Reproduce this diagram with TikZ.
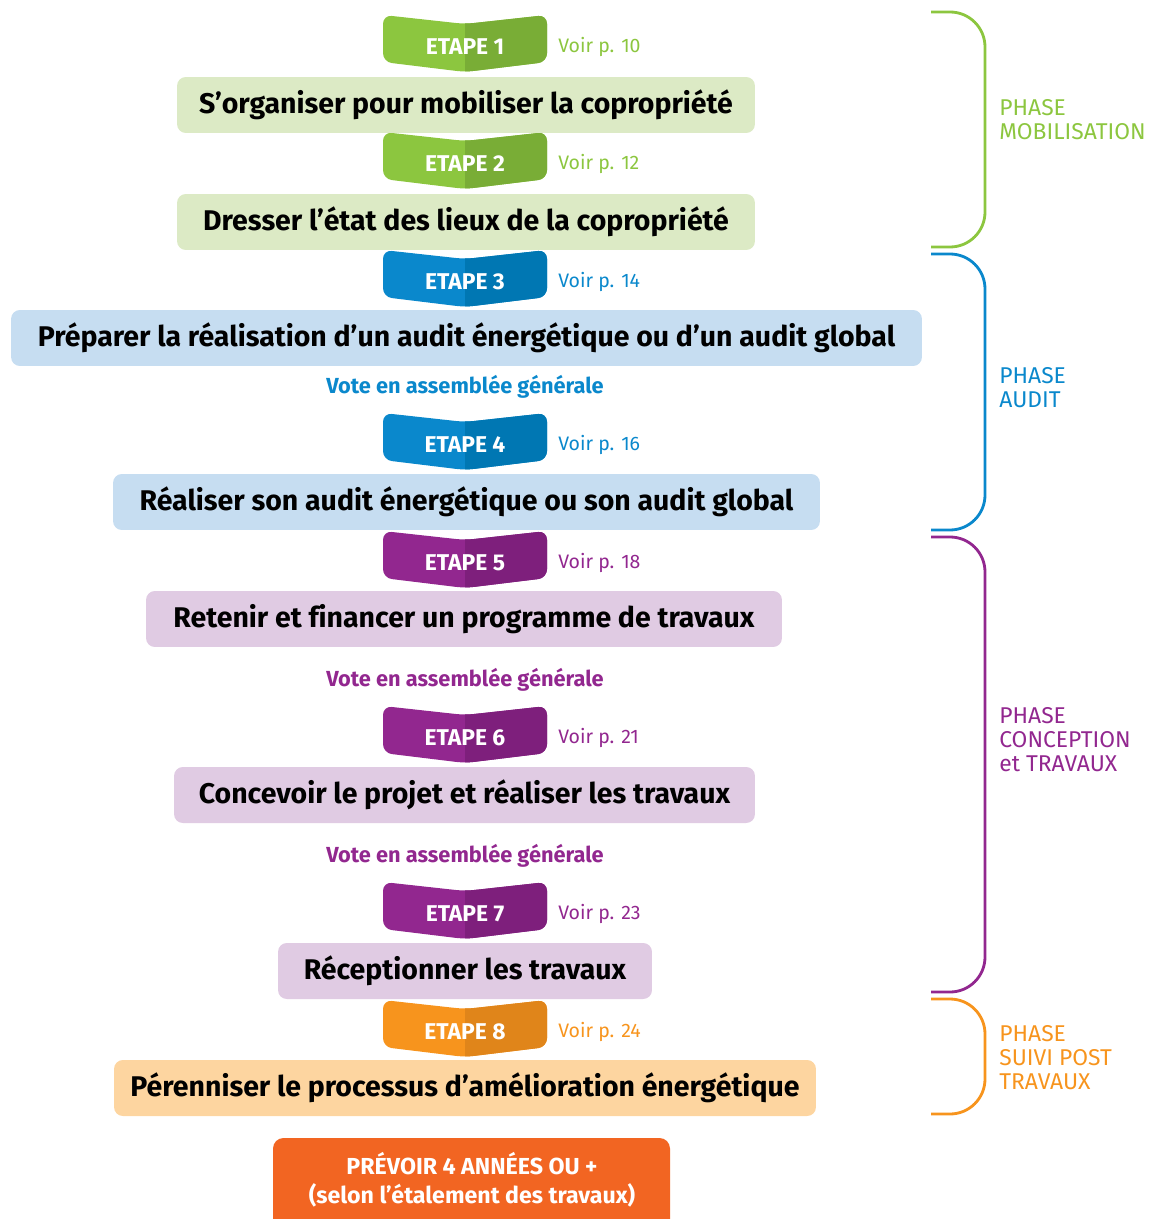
\documentclass[tikz,border=0pt]{standalone}
\usepackage{fontspec}
\setmainfont[Ligatures=NoCommon]{Fira Sans}
\usepackage{tikz}
\usetikzlibrary{positioning}

\definecolor{vertA}{HTML}{8CC63F}
\definecolor{vertB}{HTML}{79AD36}
\definecolor{vertC}{HTML}{DCEAC5}
\definecolor{bleuA}{HTML}{0A88CC}
\definecolor{bleuB}{HTML}{0077B3}
\definecolor{bleuC}{HTML}{C6DDF1}
\definecolor{violA}{HTML}{92278F}
\definecolor{violB}{HTML}{7E1F7C}
\definecolor{violC}{HTML}{E0CBE3}
\definecolor{oranA}{HTML}{F7941D}
\definecolor{oranB}{HTML}{E0851A}
\definecolor{oranC}{HTML}{FDD5A0}
\definecolor{oranD}{HTML}{F26522}

\begin{document}
\begin{tikzpicture}[
			x=0.02cm, y=-0.02cm,
			etape/.style={text=white,inner sep=0pt,font=\bfseries\fontsize{13}{15}\selectfont},
			voir/.style={anchor=west,inner sep=0pt,font=\fontsize{11.1}{13}\selectfont},
			titre/.style={rounded corners=5pt,minimum height=1.12cm,inner sep=0pt,font=\bfseries\fontsize{16.2}{19}\selectfont},
			vote/.style={inner sep=0pt,font=\bfseries\fontsize{12.4}{15}\selectfont},
			phase/.style={anchor=west,align=left,inner sep=0pt,font=\fontsize{13}{13.6}\selectfont},
			accolade/.style={line width=1.6pt,rounded corners=0.7cm}
			]

				\clip (0,0) rectangle (1161,1219);

				% etapes
				\foreach \n/\t/\p/\ca/\cb in {1/15/10/vertA/vertB, 2/132/12/vertA/vertB,
						3/250/14/bleuA/bleuB, 4/413/16/bleuA/bleuB,
						5/531/18/violA/violB, 6/706/21/violA/violB,
						7/882/23/violA/violB, 8/1000/24/oranA/oranB}{
					\fill[\ca,rounded corners=5pt] (383,\t) -- (465,\t+9) -- (547,\t) -- (547,\t+47) -- (465,\t+57) -- (383,\t+47) -- cycle;
					\begin{scope}
						\clip (465,\t-2) rectangle (550,\t+60);
						\fill[\cb,rounded corners=5pt] (383,\t) -- (465,\t+9) -- (547,\t) -- (547,\t+47) -- (465,\t+57) -- (383,\t+47) -- cycle;
					\end{scope}
					\node[etape] (e\n) at (465,\t+32) {ETAPE \n};
					\node[voir,text=\ca] (v\n) at (558,\t+32) {Voir p. \p};
				}

				% titres
				\node[titre,fill=vertC,minimum width=11.56cm] (t1) at (466,105) {S’organiser pour mobiliser la copropriété};
				\node[titre,fill=vertC,minimum width=11.56cm] (t2) at (466,222) {Dresser l’état des lieux de la copropriété};
				\node[titre,fill=bleuC,minimum width=18.22cm] (t3) at (466.5,338) {Préparer la réalisation d’un audit énergétique ou d’un audit global};
				\node[titre,fill=bleuC,minimum width=14.14cm] (t4) at (466.5,502) {Réaliser son audit énergétique ou son audit global};
				\node[titre,fill=violC,minimum width=12.72cm] (t5) at (464,619) {Retenir et financer un programme de travaux};
				\node[titre,fill=violC,minimum width=11.62cm] (t6) at (464.5,795) {Concevoir le projet et réaliser les travaux};
				\node[titre,fill=violC,minimum width=7.48cm] (t7) at (465,971) {Réceptionner les travaux};
				\node[titre,fill=oranC,minimum width=14.04cm] (t8) at (465,1088) {Pérenniser le processus d’amélioration énergétique};

				% votes
				\node[vote,text=bleuA] (vote1) at (465,387) {Vote en assemblée générale};
				\node[vote,text=violA] (vote2) at (465,680) {Vote en assemblée générale};
				\node[vote,text=violA] (vote3) at (465,856) {Vote en assemblée générale};

				% duree
				\fill[oranD,rounded corners=6pt] (273,1138) rectangle (670,1260);
				\node[text=white,align=center,inner sep=0pt,font=\bfseries\fontsize{13.2}{16.4}\selectfont] (duree) at (472,1180) {PRÉVOIR 4 ANNÉES OU +\\(selon l’étalement des travaux)};

				% phases
				\draw[accolade,vertA] (931,12) -- (985,12) -- (985,247) -- (931,247);
				\draw[accolade,bleuA] (931,254) -- (985,254) -- (985,530) -- (931,530);
				\draw[accolade,violA] (931,537) -- (985,537) -- (985,992) -- (931,992);
				\draw[accolade,oranA] (931,999) -- (985,999) -- (985,1114) -- (931,1114);

				\node[phase,text=vertA] (p1) at (999,120) {PHASE\\MOBILISATION};
				\node[phase,text=bleuA] (p2) at (999,388) {PHASE\\AUDIT};
				\node[phase,text=violA] (p3) at (999,740) {PHASE\\CONCEPTION\\et TRAVAUX};
				\node[phase,text=oranA] (p4) at (999,1058) {PHASE\\SUIVI POST\\TRAVAUX};

			\end{tikzpicture}
\end{document}
